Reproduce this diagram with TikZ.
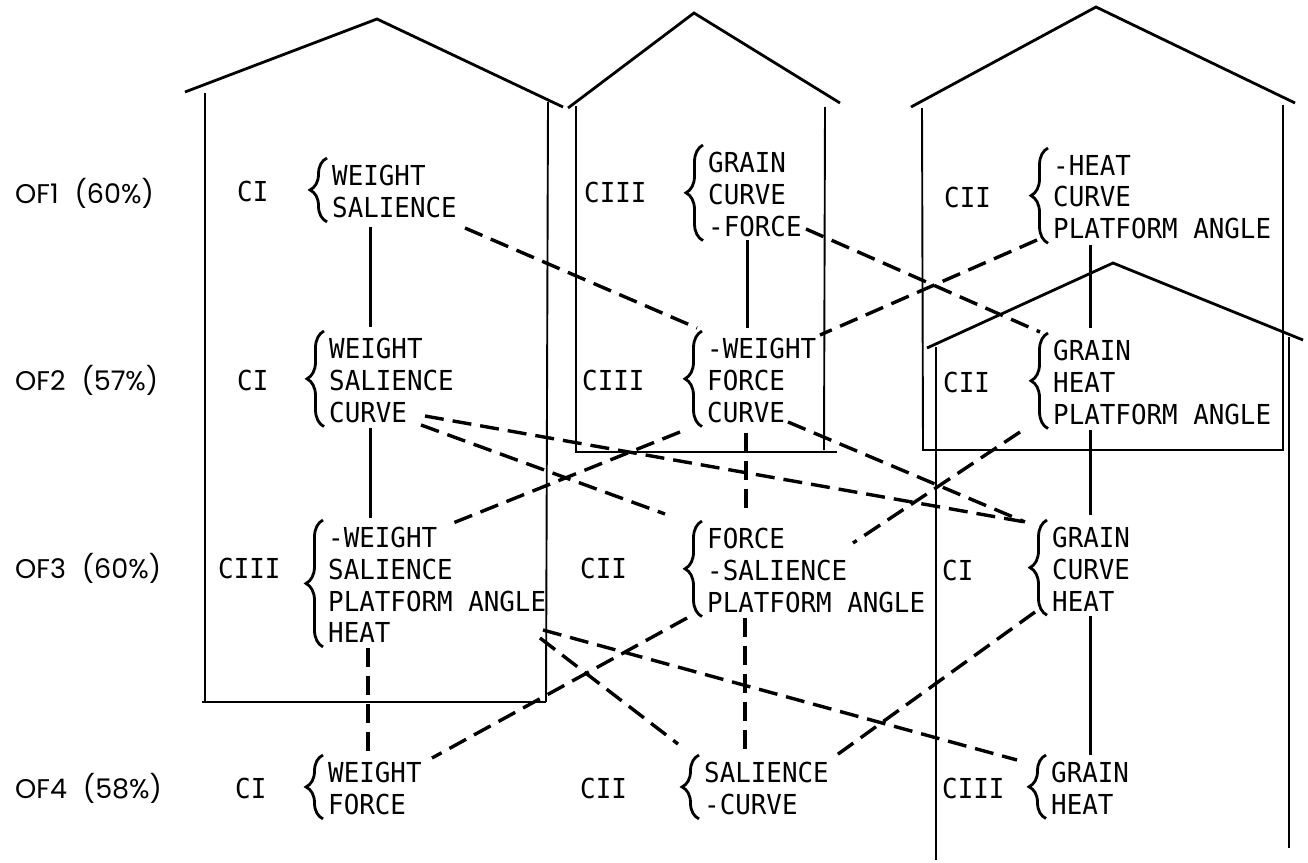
\documentclass[tikz,border=0pt]{standalone}
\usepackage{fontspec}
\newfontfamily\monof[FakeStretch=0.94]{DejaVu Sans Mono}
\newfontfamily\rowf{Poppins}
\usetikzlibrary{decorations.pathreplacing}
\begin{document}
\begin{tikzpicture}[x=1pt,y=-1pt,
  grp/.style={font=\monof\fontsize{27.5}{31.7}\selectfont, align=left, inner sep=0pt, anchor=north west},
  clab/.style={font=\monof\fontsize{27.5}{31.7}\selectfont, inner sep=0pt, anchor=west},
  rlab/.style={font=\rowf\fontsize{27}{32}\selectfont, inner sep=0pt, anchor=west},
  house/.style={line width=2.8pt, line join=miter},
  wall/.style={line width=1.9pt},
  link/.style={line width=3pt},
  dlink/.style={line width=3.4pt, dash pattern=on 19pt off 9pt},
  brc/.style={decorate, decoration={brace, amplitude=17pt}, line width=2.8pt}]
\useasboundingbox (0,0) rectangle (1308,862);

% houses
\draw[house] (185,92) -- (377,19) -- (563,107);
\draw[wall] (205,93) -- (205,702);
\draw[wall] (548,102) -- (546,702);
\draw[wall] (202,702) -- (546,702);

\draw[house] (568,108) -- (694,13) -- (840,103);
\draw[wall] (576,106) -- (576,453);
\draw[wall] (825,107) -- (824,450);
\draw[wall] (575,452) -- (837,452);

\draw[house] (911,107) -- (1096,7) -- (1295,103);
\draw[wall] (922,108) -- (923,450) -- (1283,450) -- (1283,105);

\draw[house] (927,348) -- (1113,263) -- (1303,340);
\draw[wall] (936,347) -- (936,860);
\draw[wall] (1289,337) -- (1289,848);

% row labels
\node[rlab] (r1) at (15,193) {OF1\hspace{16pt}(60\%)};
\node[rlab] (r2) at (15,380) {OF2\hspace{16pt}(57\%)};
\node[rlab] (r3) at (15,568) {OF3\hspace{16pt}(60\%)};
\node[rlab] (r4) at (15,788) {OF4\hspace{16pt}(58\%)};

% class labels
\node[clab] (l1a) at (237,191) {CI};
\node[clab] (l1b) at (584,192) {CIII};
\node[clab] (l1c) at (944,197) {CII};
\node[clab] (l2a) at (237,380) {CI};
\node[clab] (l2b) at (582,380) {CIII};
\node[clab] (l2c) at (943,382) {CII};
\node[clab] (l3a) at (218,568) {CIII};
\node[clab] (l3b) at (580,568) {CII};
\node[clab] (l3c) at (942,570) {CI};
\node[clab] (l4a) at (235,788) {CI};
\node[clab] (l4b) at (580,788) {CII};
\node[clab] (l4c) at (942,788) {CIII};

% groups
\node[grp] (g1a) at (332,165) {WEIGHT\\SALIENCE};
\node[grp] (g1b) at (708,152) {GRAIN\\CURVE\\-FORCE};
\node[grp] (g1c) at (1053,155) {-HEAT\\CURVE\\PLATFORM ANGLE};
\node[grp] (g2a) at (329,338) {WEIGHT\\SALIENCE\\CURVE};
\node[grp] (g2b) at (707,338) {-WEIGHT\\FORCE\\CURVE};
\node[grp] (g2c) at (1053,340) {GRAIN\\HEAT\\PLATFORM ANGLE};
\node[grp] (g3a) at (328,527) {-WEIGHT\\SALIENCE\\PLATFORM ANGLE\\HEAT};
\node[grp] (g3b) at (707,528) {FORCE\\-SALIENCE\\PLATFORM ANGLE};
\node[grp] (g3c) at (1052,527) {GRAIN\\CURVE\\HEAT};
\node[grp] (g4a) at (328,762) {WEIGHT\\FORCE};
\node[grp] (g4b) at (704,762) {SALIENCE\\-CURVE};
\node[grp] (g4c) at (1051,762) {GRAIN\\HEAT};

\foreach \g in {g1a,g1b,g1c,g2a,g2b,g2c,g3a,g3b,g3c,g4a,g4b,g4c}
  \draw[brc] ([xshift=-5pt,yshift=-4pt]\g.south west) -- ([xshift=-5pt,yshift=7pt]\g.north west);

% connector ends
\coordinate (a1s) at (370,227); \coordinate (a2n) at (370,327);
\coordinate (a2s) at (370,428); \coordinate (a3n) at (370,518);
\coordinate (a3s) at (368,648); \coordinate (a4n) at (368,752);
\coordinate (b1s) at (747,240); \coordinate (b2n) at (747,328);
\coordinate (b2s) at (746,433); \coordinate (b3n) at (746,513);
\coordinate (b3s) at (745,618); \coordinate (b4n) at (745,752);
\coordinate (c1s) at (1090,245); \coordinate (c2n) at (1090,328);
\coordinate (c2s) at (1090,430); \coordinate (c3n) at (1090,515);
\coordinate (c3s) at (1090,616); \coordinate (c4n) at (1090,755);

\coordinate (g1a-r) at (465,228); \coordinate (g2b-t) at (697,328);
\coordinate (g1b-r) at (806,229); \coordinate (g2c-t) at (1040,332);
\coordinate (g1c-b) at (1037,240); \coordinate (g2b-r) at (820,335);
\coordinate (g2a-r1) at (425,416); \coordinate (g3c-t) at (1025,522);
\coordinate (g2a-r2) at (421,425); \coordinate (g3b-t) at (665,514);
\coordinate (g2b-b) at (680,432); \coordinate (g3a-r) at (448,525);
\coordinate (g2b-r2) at (788,422);
\coordinate (g2c-b) at (1020,432); \coordinate (g3b-r) at (853,543);
\coordinate (g3a-r2) at (540,638); \coordinate (g4b-t) at (678,744);
\coordinate (g3a-r3) at (543,630); \coordinate (g4c-t) at (1017,760);
\coordinate (g3b-b) at (687,618); \coordinate (g4a-r) at (432,758);
\coordinate (g3c-b) at (1035,612); \coordinate (g4b-r) at (834,757);

% solid links
\draw[link] (a1s) -- (a2n);
\draw[link] (a2s) -- (a3n);
\draw[link] (b1s) -- (b2n);
\draw[link] (c1s) -- (c2n);
\draw[link] (c2s) -- (c3n);
\draw[link] (c3s) -- (c4n);

% dashed links
\draw[dlink] (a3s) -- (a4n);
\draw[dlink] (b2s) -- (b3n);
\draw[dlink] (b3s) -- (b4n);
\draw[dlink] (g1a-r) -- (g2b-t);
\draw[dlink] (g1b-r) -- (g2c-t);
\draw[dlink] (g1c-b) -- (g2b-r);
\draw[dlink] (g2a-r1) -- (g3c-t);
\draw[dlink] (g2a-r2) -- (g3b-t);
\draw[dlink] (g2b-b) -- (g3a-r);
\draw[dlink] (g2b-r2) -- (g3c-t);
\draw[dlink] (g2c-b) -- (g3b-r);
\draw[dlink] (g3a-r2) -- (g4b-t);
\draw[dlink] (g3a-r3) -- (g4c-t);
\draw[dlink] (g3b-b) -- (g4a-r);
\draw[dlink] (g3c-b) -- (g4b-r);
\end{tikzpicture}
\end{document}
